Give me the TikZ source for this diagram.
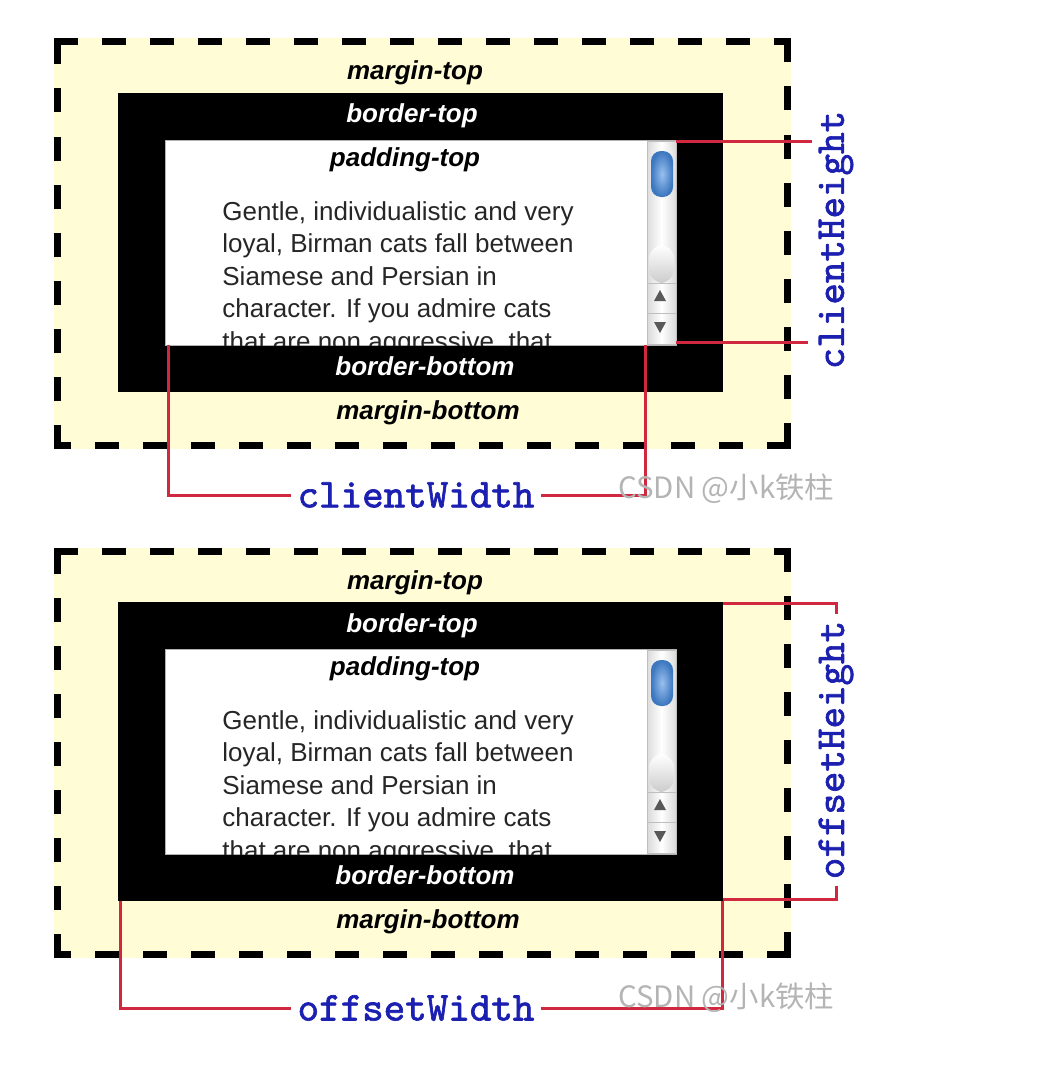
\documentclass[tikz,border=0pt]{standalone}
\usepackage{fontspec}
\setmainfont{Liberation Sans}
\newfontfamily\cjkfont{Noto Sans CJK SC}
\newfontfamily\dimfont[FakeBold=1.6]{lmmono10-regular.otf}
\usetikzlibrary{positioning}

\definecolor{marginyellow}{RGB}{255,252,214}
\definecolor{dimred}{RGB}{208,40,62}
\definecolor{dimblue}{RGB}{28,32,176}
\definecolor{markgray}{RGB}{180,180,180}
\definecolor{thumbblue}{RGB}{70,140,225}

\tikzset{
  boxlabel/.style={font=\fontsize{13}{15}\selectfont\bfseries\itshape, inner sep=0pt, anchor=base},
  dimline/.style={draw=dimred, line width=1.5pt},
  dimlabel/.style={font=\dimfont\fontsize{20.5}{22}\selectfont, text=dimblue, inner sep=3pt},
  dashside/.style={line width=3.5pt, line cap=rect, dash pattern=on 8.5pt off 15.5pt},
  watermark/.style={font=\cjkfont\fontsize{14.7}{16}\selectfont, text=markgray, anchor=west, inner sep=0pt},
}

% one box model; #1 = name prefix, #2 = vertical shift (px)
\newcommand{\boxmodel}[2]{%
  \begin{scope}[shift={(0,#2)}]
    % margin
    \fill[marginyellow] (53.5,38.5) rectangle (790.5,448.5);
    \coordinate (#1-m1) at (57,42);
    \coordinate (#1-m2) at (787,42);
    \coordinate (#1-m3) at (787,445);
    \coordinate (#1-m4) at (57,445);
    \draw[dashside] (#1-m1) -- (#1-m2);
    \draw[dashside] (#1-m2) -- (#1-m3);
    \draw[dashside] (#1-m3) -- (#1-m4);
    \draw[dashside] (#1-m4) -- (#1-m1);
    % border and padding
    \fill[black] (118,93) rectangle (723,392);
    \draw[fill=white, draw=gray!60, line width=0.4pt] (165,140) rectangle (676,345);
    \begin{scope}
      \clip (165,140) rectangle (676,345);
      \node[anchor=north west, inner sep=0pt, align=left, text=black!85,
            font=\fontsize{13}{16.25}\selectfont] (#1-text) at (222,201)
        {Gentle, individualistic and very\\loyal, Birman cats fall between\\
         Siamese and Persian in\\character. If you admire cats\\
         that are non aggressive, that};
    \end{scope}
    % scrollbar
    \shade[left color=gray!30, right color=gray!30, middle color=white] (647,141) rectangle (676,344);
    \shade[left color=gray!25, right color=gray!25, middle color=white, rounded corners=7pt] (648,142) rectangle (675,283);
    \shade[top color=white, bottom color=gray!40, rounded corners=7pt] (649,245) rectangle (674,283);
    \draw[gray!50, line width=0.4pt] (647,141) rectangle (676,344);
    \draw[gray!50, line width=0.4pt] (647,283) -- (676,283);
    \draw[gray!50, line width=0.4pt] (647,313) -- (676,313);
    \shade[inner color=thumbblue!55, outer color=thumbblue!85!black, rounded corners=5pt] (651,151) rectangle (673,197);
    \fill[gray!70!black] (654,301) -- (666,301) -- (660,290) -- cycle;
    \fill[gray!70!black] (654,322) -- (666,322) -- (660,333) -- cycle;
    % labels
    \node[boxlabel] (#1-mtop) at (415,80) {margin-top};
    \node[boxlabel, text=white] (#1-btop) at (412,123) {border-top};
    \node[boxlabel] (#1-ptop) at (405,166) {padding-top};
    \node[boxlabel, text=white] (#1-bbot) at (425,375) {border-bottom};
    \node[boxlabel] (#1-mbot) at (428,419) {margin-bottom};
  \end{scope}
}

\begin{document}
\begin{tikzpicture}[x=0.5pt, y=-0.5pt]
  \useasboundingbox (0,0) rectangle (1046,1070);

  \boxmodel{client}{0}
  \boxmodel{offset}{509}

  % clientHeight / clientWidth
  \coordinate (ch-a) at (676,141);
  \coordinate (ch-b) at (812,141);
  \coordinate (ch-c) at (676,342);
  \coordinate (ch-d) at (808,342);
  \coordinate (cw-a) at (168,345);
  \coordinate (cw-b) at (645,345);
  \node[dimlabel, rotate=90] (ch) at (836,240) {clientHeight};
  \node[dimlabel] (cw) at (416,495) {clientWidth};
  \draw[dimline] (ch-a) -- (ch-b);
  \draw[dimline] (ch-c) -- (ch-d);
  \draw[dimline] (cw-a) |- (cw.west);
  \draw[dimline] (cw.east) -| (cw-b);
  \node[watermark] (wm1) at (618,489) {CSDN @小k铁柱};

  % offsetHeight / offsetWidth
  \coordinate (oh-a) at (723,603);
  \coordinate (oh-b) at (723,899);
  \coordinate (ow-a) at (120,901);
  \coordinate (ow-b) at (722,901);
  \node[dimlabel, rotate=90] (oh) at (836,750) {offsetHeight};
  \node[dimlabel] (ow) at (416,1008) {offsetWidth};
  \draw[dimline] (oh-a) -| (oh.east);
  \draw[dimline] (oh.west) |- (oh-b);
  \draw[dimline] (ow-a) |- (ow.west);
  \draw[dimline] (ow.east) -| (ow-b);
  \node[watermark] (wm2) at (618,998) {CSDN @小k铁柱};
\end{tikzpicture}
\end{document}
